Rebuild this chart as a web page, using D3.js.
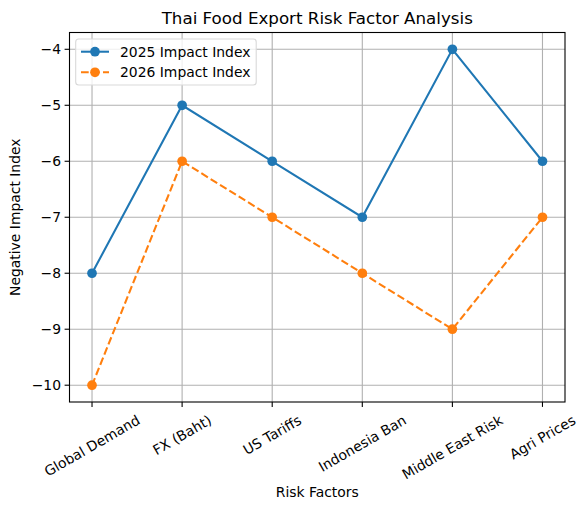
<!DOCTYPE html>
<html lang="en">
<head>
<meta charset="utf-8" />
<title>Thai Food Export Risk Factor Analysis</title>
<style>
html, body { margin: 0; padding: 0; background: #fff; }
svg { display: block; font-family: "DejaVu Sans", sans-serif; }
</style>
</head>
<body>
<svg width="587" height="510"></svg>

<script src="https://cdn.jsdelivr.net/npm/d3@7/dist/d3.min.js"></script>
<script>

// data
var factors = ["Global Demand", "FX (Baht)", "US Tariffs", "Indonesia Ban", "Middle East Risk", "Agri Prices"];
var impact2025 = [-8, -5, -6, -7, -4, -6];
var impact2026 = [-10, -6, -7, -8, -9, -7];
var yTicks = [-10, -9, -8, -7, -6, -5, -4];

var series = [
	{ name: "2025 Impact Index", values: impact2025, color: "#1f77b4", dash: null },
	{ name: "2026 Impact Index", values: impact2026, color: "#ff7f0e", dash: "7.7,3.3" }
];

var svg = d3.select("svg");
var pLeft = 69.5, pRight = 565, pTop = 32.5, pBottom = 402;
var mr = 4.85; // marker radius

// 5% padding like matplotlib
var x = d3.scaleLinear().domain([-0.25, factors.length - 1 + 0.25]).range([pLeft, pRight]);
var y = d3.scaleLinear().domain([-10.3, -3.7]).range([pBottom, pTop]);

// grid
var grid = svg.append("g");
factors.forEach(function(f, i) {
	grid.append("line").attr("x1", x(i)).attr("x2", x(i)).attr("y1", pTop).attr("y2", pBottom)
		.attr("stroke", "#b0b0b0").attr("stroke-width", 1.1);
});
yTicks.forEach(function(t) {
	grid.append("line").attr("x1", pLeft).attr("x2", pRight).attr("y1", y(t)).attr("y2", y(t))
		.attr("stroke", "#b0b0b0").attr("stroke-width", 1.1);
});

// lines and markers
var line = d3.line().x(function(d, i) { return x(i); }).y(function(d) { return y(d); });
series.forEach(function(s) {
	svg.append("path").datum(s.values).attr("d", line)
		.attr("fill", "none").attr("stroke", s.color).attr("stroke-width", 2.08)
		.attr("stroke-dasharray", s.dash);
	svg.selectAll(null).data(s.values).enter().append("circle")
		.attr("cx", function(d, i) { return x(i); })
		.attr("cy", function(d) { return y(d); })
		.attr("r", mr).attr("fill", s.color);
});

// frame
svg.append("rect").attr("x", pLeft).attr("y", pTop).attr("width", pRight - pLeft).attr("height", pBottom - pTop)
	.attr("fill", "none").attr("stroke", "#000").attr("stroke-width", 1.1);

// y ticks
yTicks.forEach(function(t) {
	svg.append("line").attr("x1", pLeft - 4.9).attr("x2", pLeft).attr("y1", y(t)).attr("y2", y(t))
		.attr("stroke", "#000").attr("stroke-width", 1.1);
	svg.append("text").attr("x", pLeft - 8.5).attr("y", y(t)).attr("dy", "0.35em")
		.attr("text-anchor", "end").attr("font-size", 13.9)
		.text(String(t).replace("-", "\u2212"));
});

// x ticks, labels rotated 30 degrees, centred under the tick
var ang = 30 * Math.PI / 180;
factors.forEach(function(f, i) {
	var cx = x(i);
	svg.append("line").attr("x1", cx).attr("x2", cx).attr("y1", pBottom).attr("y2", pBottom + 4.9)
		.attr("stroke", "#000").attr("stroke-width", 1.1);
	var t = svg.append("text").attr("font-size", 13.9).attr("text-anchor", "middle")
		.attr("dominant-baseline", "central").text(f);
	var w = t.node().getComputedTextLength();
	var h = 13.9 * 1.15;
	var bh = w * Math.sin(ang) + h * Math.cos(ang);
	var cy = pBottom + 4.9 + 4.9 + bh / 2;
	t.attr("transform", "translate(" + [cx, cy] + ") rotate(-30)");
});

// titles
svg.append("text").attr("x", (pLeft + pRight) / 2).attr("y", 24).attr("text-anchor", "middle")
	.attr("font-size", 16.7).text("Thai Food Export Risk Factor Analysis");
svg.append("text").attr("x", (pLeft + pRight) / 2).attr("y", 497).attr("text-anchor", "middle")
	.attr("font-size", 13.9).text("Risk Factors");
svg.append("text").attr("transform", "translate(20," + ((pTop + pBottom) / 2) + ") rotate(-90)")
	.attr("text-anchor", "middle").attr("font-size", 13.9).text("Negative Impact Index");

// legend
var lg = svg.append("g");
lg.append("rect").attr("x", 75.7).attr("y", 39).attr("width", 180.5).attr("height", 46).attr("rx", 3)
	.attr("fill", "#fff").attr("fill-opacity", 0.8).attr("stroke", "#d9d9d9").attr("stroke-width", 1.1);
series.forEach(function(s, i) {
	var ly = 51.7 + i * 20.6;
	lg.append("line").attr("x1", 81).attr("x2", 109).attr("y1", ly).attr("y2", ly)
		.attr("stroke", s.color).attr("stroke-width", 2.08).attr("stroke-dasharray", s.dash);
	lg.append("circle").attr("cx", 95).attr("cy", ly).attr("r", mr).attr("fill", s.color);
	lg.append("text").attr("x", 120).attr("y", ly).attr("dy", "0.35em").attr("font-size", 13.9).text(s.name);
});

</script>
</body>
</html>
